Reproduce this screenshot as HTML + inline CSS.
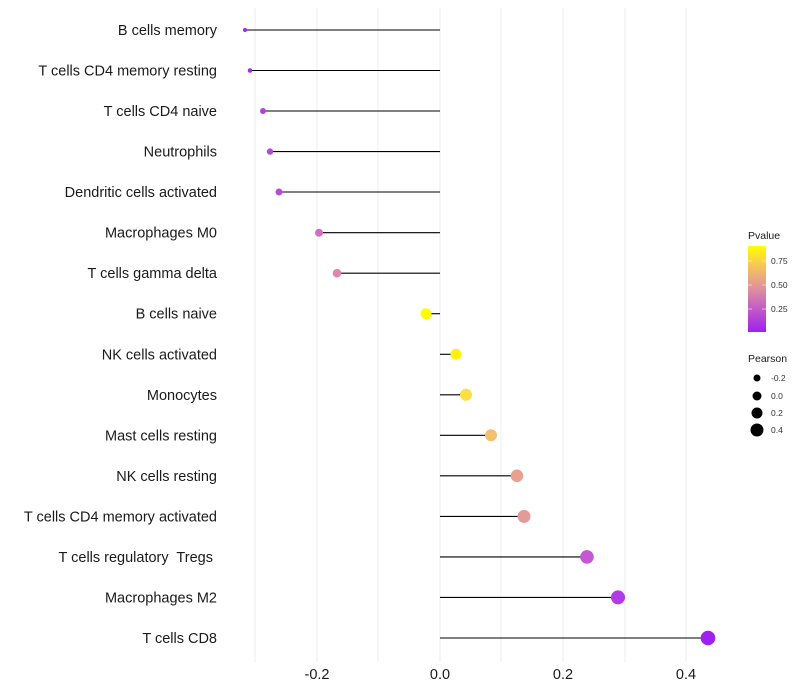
<!DOCTYPE html><html><head><style>body{margin:0;background:#fff}svg{display:block;font-family:"Liberation Sans",sans-serif}</style></head><body>
<svg width="800" height="700" viewBox="0 0 800 700">
<defs><linearGradient id="g" x1="0" y1="1" x2="0" y2="0"><stop offset="0" stop-color="#a020f0"/><stop offset="0.5" stop-color="#df8fa0"/><stop offset="0.75" stop-color="#f5c060"/><stop offset="1" stop-color="#ffff00"/></linearGradient></defs>
<g stroke="#eeeeee" stroke-width="1">
<line x1="255" y1="8" x2="255" y2="662"/><line x1="317" y1="8" x2="317" y2="662"/><line x1="378" y1="8" x2="378" y2="662"/><line x1="440" y1="8" x2="440" y2="662"/><line x1="501" y1="8" x2="501" y2="662"/><line x1="563" y1="8" x2="563" y2="662"/><line x1="625" y1="8" x2="625" y2="662"/><line x1="686" y1="8" x2="686" y2="662"/>
</g>
<g font-size="14.5" fill="#1a1a1a" text-anchor="end" style="white-space:pre">
<text x="217" y="35">B cells memory</text>
<text x="217" y="75.5">T cells CD4 memory resting</text>
<text x="217" y="116">T cells CD4 naive</text>
<text x="217" y="156.6">Neutrophils</text>
<text x="217" y="197">Dendritic cells activated</text>
<text x="217" y="237.7">Macrophages M0</text>
<text x="217" y="278.2">T cells gamma delta</text>
<text x="217" y="318.7">B cells naive</text>
<text x="217" y="359.3">NK cells activated</text>
<text x="217" y="399.8">Monocytes</text>
<text x="217" y="440.3">Mast cells resting</text>
<text x="217" y="480.8">NK cells resting</text>
<text x="217" y="521.4">T cells CD4 memory activated</text>
<text x="217" y="561.9" xml:space="preserve">T cells regulatory  Tregs </text>
<text x="217" y="602.4">Macrophages M2</text>
<text x="217" y="643">T cells CD8</text>
</g>
<g font-size="14.5" fill="#1a1a1a" text-anchor="middle">
<text x="317" y="679">-0.2</text><text x="440" y="679">0.0</text><text x="563" y="679">0.2</text><text x="686" y="679">0.4</text>
</g>
<g stroke="#000" stroke-width="1.1">
<line x1="245" y1="30" x2="440" y2="30"/>
<line x1="250" y1="70.5" x2="440" y2="70.5"/>
<line x1="263" y1="111" x2="440" y2="111"/>
<line x1="270" y1="151.6" x2="440" y2="151.6"/>
<line x1="279" y1="192" x2="440" y2="192"/>
<line x1="319" y1="232.7" x2="440" y2="232.7"/>
<line x1="337" y1="273.2" x2="440" y2="273.2"/>
<line x1="426" y1="313.7" x2="440" y2="313.7"/>
<line x1="440" y1="354.3" x2="456" y2="354.3"/>
<line x1="440" y1="394.8" x2="466" y2="394.8"/>
<line x1="440" y1="435.3" x2="491" y2="435.3"/>
<line x1="440" y1="475.8" x2="517" y2="475.8"/>
<line x1="440" y1="516.4" x2="524" y2="516.4"/>
<line x1="440" y1="556.9" x2="587" y2="556.9"/>
<line x1="440" y1="597.4" x2="618" y2="597.4"/>
<line x1="440" y1="638" x2="708" y2="638"/>
</g>
<g>
<circle cx="245" cy="30" r="2" fill="#a228ee"/>
<circle cx="250" cy="70.5" r="2.3" fill="#a52ae8"/>
<circle cx="263" cy="111" r="3" fill="#b040e0"/>
<circle cx="270" cy="151.6" r="3.2" fill="#b448d8"/>
<circle cx="279" cy="192" r="3.5" fill="#b84cd4"/>
<circle cx="319" cy="232.7" r="4" fill="#d070c0"/>
<circle cx="337" cy="273.2" r="4.3" fill="#df85b0"/>
<circle cx="426" cy="313.7" r="5.5" fill="#ffff00"/>
<circle cx="456" cy="354.3" r="5.5" fill="#fff010"/>
<circle cx="466" cy="394.8" r="6" fill="#fbe040"/>
<circle cx="491" cy="435.3" r="6" fill="#f3c070"/>
<circle cx="517" cy="475.8" r="6.3" fill="#e8a090"/>
<circle cx="524" cy="516.4" r="6.5" fill="#e59a9a"/>
<circle cx="587" cy="556.9" r="6.8" fill="#c458d0"/>
<circle cx="618" cy="597.4" r="7" fill="#b33be6"/>
<circle cx="708" cy="638" r="7.3" fill="#a020f0"/>
</g>
<text x="748" y="239" font-size="10.5" fill="#1a1a1a">Pvalue</text>
<rect x="748" y="246" width="18" height="86" fill="url(#g)"/>
<g stroke="#fff" stroke-width="0.8" opacity="0.7"><line x1="748" y1="261" x2="752" y2="261"/><line x1="762" y1="261" x2="766" y2="261"/><line x1="748" y1="285" x2="752" y2="285"/><line x1="762" y1="285" x2="766" y2="285"/><line x1="748" y1="309" x2="752" y2="309"/><line x1="762" y1="309" x2="766" y2="309"/></g>
<g font-size="8.5" fill="#333"><text x="771" y="264">0.75</text><text x="771" y="288">0.50</text><text x="771" y="312">0.25</text></g>
<text x="748" y="362" font-size="10.5" fill="#1a1a1a">Pearson</text>
<g fill="#000"><circle cx="757" cy="378" r="3.5"/><circle cx="757" cy="396" r="4.5"/><circle cx="757" cy="413" r="5.5"/><circle cx="757" cy="430" r="6.5"/></g>
<g font-size="8.5" fill="#333"><text x="771" y="381">-0.2</text><text x="771" y="399">0.0</text><text x="771" y="416">0.2</text><text x="771" y="433">0.4</text></g>
</svg></body></html>
